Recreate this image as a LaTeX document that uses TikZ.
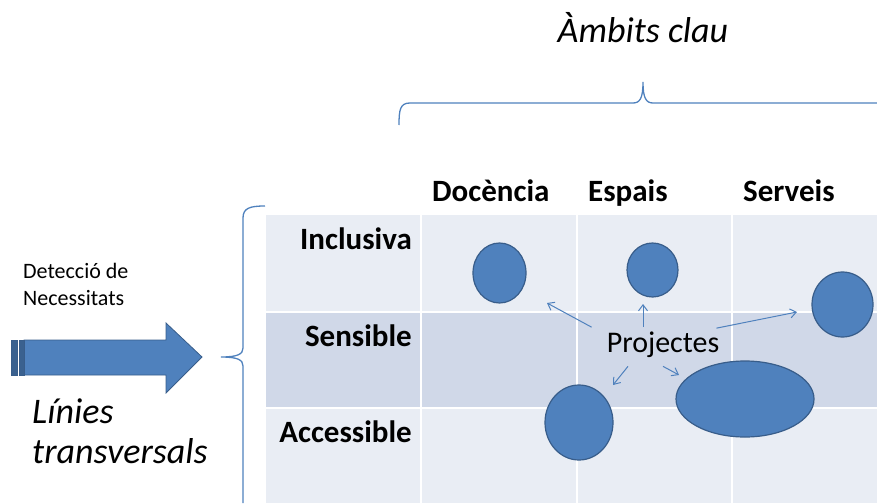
\documentclass[tikz,border=0pt]{standalone}
\usepackage{fontspec}
\setmainfont{Carlito}
\usetikzlibrary{positioning,calc,arrows.meta,shapes.geometric}
\definecolor{ambBlue}{RGB}{79,129,189}
\definecolor{ambDark}{RGB}{56,93,138}
\definecolor{cellLight}{RGB}{233,237,244}
\definecolor{cellDark}{RGB}{208,216,232}

\begin{document}
\begin{tikzpicture}[x=1pt,y=-1pt]
	\tikzset{
		proj/.style={ellipse, fill=ambBlue, draw=ambDark, line width=1.2pt, inner sep=0pt},
		link/.style={-{Straight Barb[length=6pt,width=9pt]}, draw=ambBlue, line width=1pt},
		brace/.style={draw=ambBlue, line width=1.3pt},
		head/.style={font=\fontsize{31}{35}\selectfont\bfseries, anchor=base west, inner sep=0pt},
		rowlab/.style={font=\fontsize{31}{35}\selectfont\bfseries, anchor=base east, inner sep=0pt}
	}
	\useasboundingbox (0,0) rectangle (877,503);

	% table background
	\fill[cellLight] (266,215) rectangle (877,503);
	\fill[cellDark] (266,312) rectangle (877,408);
	\foreach \x in {421,577,732}
		\draw[white, line width=1.5pt] (\x,215) -- (\x,503);
	\foreach \y in {312,408}
		\draw[white, line width=1.5pt] (266,\y) -- (877,\y);

	% column heads
	\node[head] (hdoc) at (432,201) {Docència};
	\node[head] (hesp) at (588,201) {Espais};
	\node[head] (hser) at (743,201) {Serveis};

	% row labels
	\node[rowlab] (rinc) at (412,249) {Inclusiva};
	\node[rowlab] (rsen) at (412,346) {Sensible};
	\node[rowlab] (racc) at (412,442) {Accessible};

	% top brace
	\node[font=\fontsize{36}{40}\selectfont\itshape, anchor=base, inner sep=0pt] (ambits) at (643,43) {Àmbits clau};
	\draw[brace] (399,125) .. controls (399,110) and (400,103) .. (410,103)
		-- (633,103) .. controls (640,103) and (643,98) .. (643,82)
		.. controls (643,98) and (646,103) .. (653,103) -- (877,103);

	% left brace
	\draw[brace] (265,206) .. controls (250,206) and (243,208) .. (243,218)
		-- (243,348) .. controls (243,354) and (238,357) .. (221,357)
		.. controls (238,357) and (243,360) .. (243,366) -- (243,503);

	% big arrow
	\node[font=\fontsize{22}{27}\selectfont, align=left, anchor=base west, inner sep=0pt] (detec) at (23,305) {Detecció de\\Necessitats};
	\draw[fill=ambBlue, draw=ambDark, line width=0.8pt] (24,340) -- (166,340) -- (166,323) -- (202,357)
		-- (166,393) -- (166,375) -- (24,375) -- cycle;
	\draw[fill=ambDark!90!ambBlue, draw=ambDark, line width=0.8pt] (11,340) rectangle (17,375);
	\draw[fill=ambDark!90!ambBlue, draw=ambDark, line width=0.8pt] (19,340) rectangle (24,375);
	\node[font=\fontsize{36}{40}\selectfont\itshape, align=left, anchor=base west, inner sep=0pt] (linies) at (32,463) {Línies\\transversals};

	% projects
	\node[proj, minimum width=53pt, minimum height=60pt] (e1) at (499.5,273) {};
	\node[proj, minimum width=51pt, minimum height=54pt] (e2) at (652.5,270) {};
	\node[proj, minimum width=61pt, minimum height=65pt] (e3) at (842.5,304.5) {};
	\node[proj, minimum width=68pt, minimum height=75pt] (e4) at (579,422.5) {};
	\node[proj, minimum width=138pt, minimum height=76pt] (e5) at (745,399) {};

	\node[font=\fontsize{30}{34}\selectfont, inner sep=2pt, anchor=base] (projectes) at (663,352) {Projectes};

	\coordinate (t1) at (547,303);
	\coordinate (t2) at (643,304);
	\coordinate (t3) at (797,312);
	\coordinate (t4) at (613,385);
	\coordinate (t5) at (679,375);

	\draw[link] ([xshift=-13pt,yshift=2pt]projectes.north west) -- (t1);
	\draw[link] ([yshift=2pt]projectes.north -| t2) -- (t2);
	\draw[link] ([xshift=-5pt,yshift=1pt]projectes.north east) -- (t3);
	\draw[link] ([xshift=-35pt,yshift=-7pt]projectes.south) -- (t4);
	\draw[link] ([yshift=-7pt]projectes.south) -- (t5);
\end{tikzpicture}
\end{document}
